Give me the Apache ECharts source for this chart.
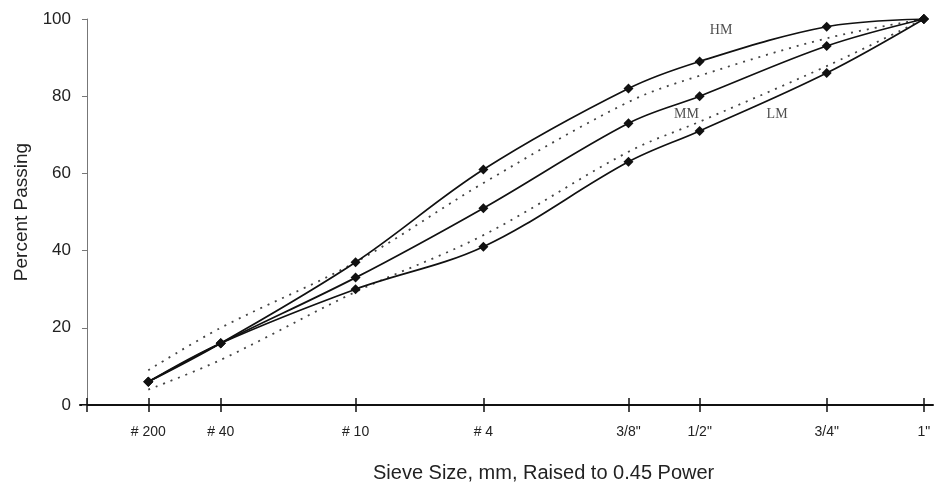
<!DOCTYPE html>
<html>
<head>
<meta charset="utf-8">
<script src="https://cdn.jsdelivr.net/npm/echarts@6/dist/echarts.min.js"></script>
<style>
  html, body { margin: 0; padding: 0; background: #fff; }
  #chart { width: 939px; height: 487px; }
</style>
</head>
<body>
<div id="chart"></div>
<script>
// Sieve sizes (mm) and their labels; the x axis is size^0.45
const sieveLabels = ['# 200', '# 40', '# 10', '# 4', '3/8"', '1/2"', '3/4"', '1"'];
const sieveMm = [0.075, 0.425, 2.0, 4.75, 9.5, 12.5, 19.0, 25.0];

// Percent passing for the three gradations
const hm = [6, 16, 37, 61, 82, 89, 98, 100];
const mm = [6, 16, 33, 51, 73, 80, 93, 100];
const lm = [6, 16, 30, 41, 63, 71, 86, 100];

// Dotted band lines
const upperBand = [9, 20, 37, 57.5, 78.5, 85.3, 95, 100];
const lowerBand = [4, 11.7, 29.3, 44, 65.6, 73.4, 87.8, 100];

// Curve names and where they sit (x in mm^0.45, y in percent)
const curveNames = ['HM', 'MM', 'LM'];
const curveNameX = [3.225, 3.049, 3.510];
const curveNameY = [97.0, 75.3, 75.3];

const xPow = sieveMm.map(d => Math.pow(d, 0.45));
const pairs = ys => ys.map((y, i) => [xPow[i], y]);
const tickVals = [0].concat(xPow);

const labelFor = v => {
  for (let i = 0; i < xPow.length; i++) {
    if (Math.abs(xPow[i] - v) < 1e-6) return sieveLabels[i];
  }
  return '';
};

const sans = 'Liberation Sans, Arial, sans-serif';
const xMin = -0.0356, xMax = 4.303;

const gradation = (name, ys) => ({
  name, type: 'line', data: pairs(ys), smooth: 0.35,
  symbol: 'diamond', symbolSize: 10,
  itemStyle: { color: '#111' },
  lineStyle: { color: '#111', width: 1.7 },
  z: 3
});
const band = (name, ys) => ({
  name, type: 'line', data: pairs(ys), smooth: 0.35,
  symbol: 'none', showSymbol: false,
  lineStyle: { color: '#444', width: 1.8, type: [2, 6] },
  z: 2
});

const chart = echarts.init(document.getElementById('chart'));
chart.setOption({
  animation: false,
  backgroundColor: '#fff',
  title: {
    text: 'Sieve Size, mm, Raised to 0.45 Power',
    left: 368, top: 458,
    textStyle: { fontFamily: sans, fontSize: 20, fontWeight: 'normal', color: '#222' }
  },
  grid: { left: 80, right: 6, top: 19, bottom: 82, containLabel: false },
  xAxis: [
    {
      type: 'value', position: 'bottom', min: xMin, max: xMax,
      axisLine: { onZero: false, lineStyle: { color: '#111', width: 2 } },
      axisTick: { inside: true, length: 7, customValues: tickVals, lineStyle: { color: '#111', width: 1.5 } },
      axisLabel: {
        customValues: xPow, formatter: labelFor, margin: 20,
        fontFamily: sans, fontSize: 14, color: '#222'
      },
      splitLine: { show: false }
    },
    {
      type: 'value', position: 'bottom', offset: 0, min: xMin, max: xMax,
      axisLine: { show: false },
      axisTick: { inside: false, length: 7, customValues: tickVals, lineStyle: { color: '#111', width: 1.5 } },
      axisLabel: { show: false },
      splitLine: { show: false }
    }
  ],
  yAxis: {
    type: 'value', min: 0, max: 100, interval: 20,
    name: 'Percent Passing', nameLocation: 'middle', nameGap: 44,
    nameTextStyle: { fontFamily: sans, fontSize: 19, color: '#222' },
    axisLine: { onZero: true, lineStyle: { color: '#777', width: 1 } },
    axisTick: { length: 5, lineStyle: { color: '#777' } },
    axisLabel: { margin: 9, fontFamily: sans, fontSize: 17, color: '#222' },
    splitLine: { show: false }
  },
  series: [
    band('upper', upperBand),
    band('lower', lowerBand),
    gradation('HM', hm),
    gradation('MM', mm),
    gradation('LM', lm),
    {
      name: 'names', type: 'scatter', symbolSize: 0, silent: true,
      data: curveNames.map((n, i) => ({ value: [curveNameX[i], curveNameY[i]], name: n })),
      label: {
        show: true, position: 'inside', formatter: p => p.name,
        fontFamily: 'Liberation Serif, Times New Roman, serif', fontSize: 14, color: '#222'
      }
    }
  ]
});
</script>
</body>
</html>
